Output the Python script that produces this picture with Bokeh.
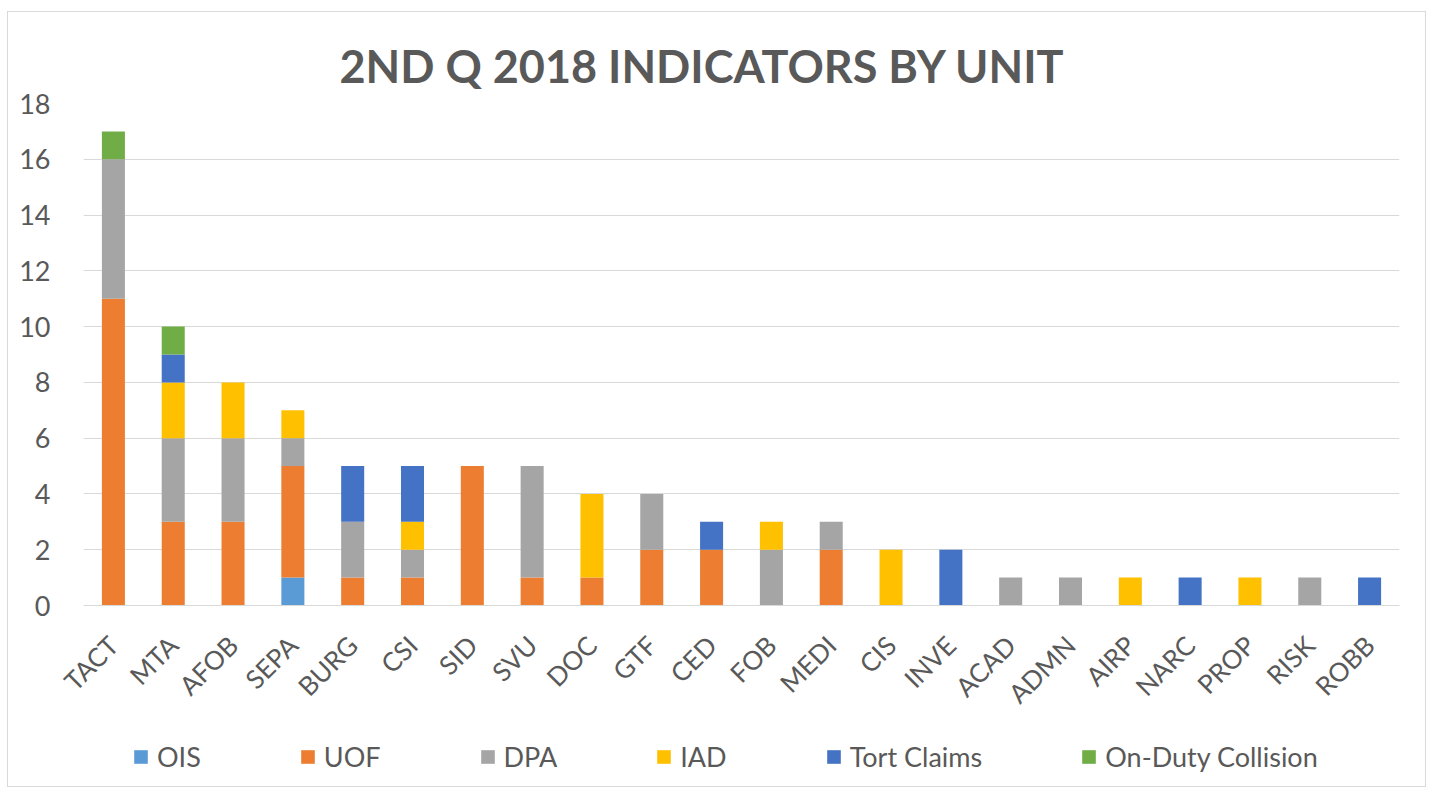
from bokeh.plotting import figure
from bokeh.models import ColumnDataSource, Range1d, FactorRange, SingleIntervalTicker, Legend, Title
from bokeh.layouts import column
from bokeh.embed import file_html
from bokeh.resources import INLINE
import math

units = ["TACT", "MTA", "AFOB", "SEPA", "BURG", "CSI", "SID", "SVU", "DOC", "GTF", "CED",
         "FOB", "MEDI", "CIS", "INVE", "ACAD", "ADMN", "AIRP", "NARC", "PROP", "RISK", "ROBB"]
ois       = [0, 0, 0, 1, 0, 0, 0, 0, 0, 0, 0, 0, 0, 0, 0, 0, 0, 0, 0, 0, 0, 0]
uof       = [11, 3, 3, 4, 1, 1, 5, 1, 1, 2, 2, 0, 2, 0, 0, 0, 0, 0, 0, 0, 0, 0]
dpa       = [5, 3, 3, 1, 2, 1, 0, 4, 0, 2, 0, 2, 1, 0, 0, 1, 1, 0, 0, 0, 1, 0]
iad       = [0, 2, 2, 1, 0, 1, 0, 0, 3, 0, 0, 1, 0, 2, 0, 0, 0, 1, 0, 1, 0, 0]
tort      = [0, 1, 0, 0, 2, 2, 0, 0, 0, 0, 1, 0, 0, 0, 2, 0, 0, 0, 1, 0, 0, 1]
collision = [1, 1, 0, 0, 0, 0, 0, 0, 0, 0, 0, 0, 0, 0, 0, 0, 0, 0, 0, 0, 0, 0]

series_keys = ["ois", "uof", "dpa", "iad", "tort", "collision"]
series_labels = ["OIS", "UOF", "DPA", "IAD", "Tort Claims", "On-Duty Collision"]
colors = ["#5B9BD5", "#ED7D31", "#A5A5A5", "#FFC000", "#4472C4", "#70AD47"]

source = ColumnDataSource(data=dict(unit=units, ois=ois, uof=uof, dpa=dpa, iad=iad,
                                    tort=tort, collision=collision))

FONT = "Lato"
TXT = "#595959"

# main chart
p = figure(x_range=FactorRange(*units, range_padding=0), y_range=Range1d(0, 18),
           width=1417, height=711,
           min_border_left=75, min_border_right=26, min_border_top=91, min_border_bottom=117,
           output_backend="svg", toolbar_location=None, title=None)

p.vbar_stack(series_keys, x="unit", width=0.385, color=colors, line_width=0, source=source)

title = Title(text="2ND Q 2018 INDICATORS BY UNIT", align="left", text_font=FONT,
              text_font_size="45px", text_font_style="bold", text_color=TXT,
              standoff=21, offset=256)
p.add_layout(title, "above")

p.outline_line_color = None
p.xgrid.grid_line_color = None
p.ygrid.grid_line_color = "#d9d9d9"
p.ygrid.grid_line_width = 1

p.yaxis.ticker = SingleIntervalTicker(interval=2)
p.yaxis.axis_line_color = None
p.yaxis.major_tick_line_color = None
p.yaxis.minor_tick_line_color = None
p.yaxis.major_label_text_font = FONT
p.yaxis.major_label_text_font_size = "27px"
p.yaxis.major_label_text_color = TXT
p.yaxis.major_label_standoff = 27

p.xaxis.axis_line_color = "#d9d9d9"
p.xaxis.major_tick_line_color = None
p.xaxis.minor_tick_line_color = None
p.xaxis.major_label_orientation = math.pi / 4
p.xaxis.major_label_text_font = FONT
p.xaxis.major_label_text_font_size = "26px"
p.xaxis.major_label_text_color = TXT
p.xaxis.major_label_standoff = 29

# legend strip (same series, drawn outside its visible range so only the legend shows)
p2 = figure(x_range=FactorRange(*units, range_padding=0), y_range=Range1d(100, 101),
            width=1417, height=63, x_axis_location=None, y_axis_location=None,
            min_border_left=75, min_border_right=26, min_border_top=0, min_border_bottom=0,
            output_backend="svg", toolbar_location=None, title=None)
p2.outline_line_color = None
p2.xgrid.grid_line_color = None
p2.ygrid.grid_line_color = None
legend_renderers = p2.vbar_stack(series_keys, x="unit", width=0.385, color=colors,
                                 line_width=0, source=source)

legend = Legend(items=[(lab, [r]) for lab, r in zip(series_labels, legend_renderers)],
                orientation="horizontal", location=(49, 13),
                label_text_font=FONT, label_text_font_size="27px", label_text_color=TXT,
                glyph_width=17, glyph_height=17, label_standoff=8, spacing=98,
                border_line_color=None, background_fill_alpha=0, margin=0, padding=5)
p2.add_layout(legend, "center")

layout = column(p, p2, spacing=0)
layout.styles = {"border": "1px solid #d9d9d9", "margin-left": "7px", "margin-top": "11px"}

open("out.html", "w").write(file_html(layout, INLINE))
